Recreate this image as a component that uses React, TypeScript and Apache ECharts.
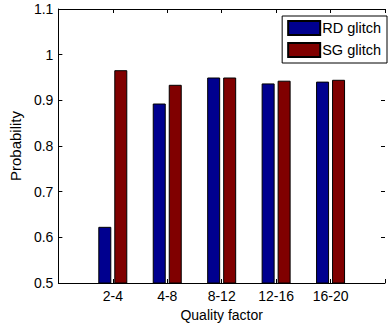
import React, { useEffect, useRef } from "react";
import * as echarts from "echarts";

const categories = ["", "2-4", "4-8", "8-12", "12-16", "16-20", ""];
const rdGlitch = [null, 0.623, 0.893, 0.95, 0.937, 0.941, null];
const sgGlitch = [null, 0.966, 0.934, 0.95, 0.943, 0.945, null];
const yTicks = { min: 0.5, max: 1.1, interval: 0.1 };

export default function App() {
  const ref = useRef<HTMLDivElement>(null);
  useEffect(() => {
    if (!ref.current) return;
    const chart = echarts.init(ref.current, undefined, { renderer: "svg" });
    const font = "Liberation Sans, Arial, sans-serif";
    const axisLine = { show: true, lineStyle: { color: "#000", width: 1 } };
    const tick = { show: true, inside: true, length: 4, lineStyle: { color: "#000" } };
    chart.setOption({
      animation: false,
      backgroundColor: "#fff",
      textStyle: { fontFamily: font },
      grid: { left: 58, top: 9, right: 0, bottom: 44 },
      legend: {
        orient: "vertical",
        right: 1,
        top: 16,
        itemWidth: 32,
        itemHeight: 14,
        itemGap: 6,
        padding: [4, 6, 5, 5],
        borderColor: "#000",
        borderWidth: 1,
        backgroundColor: "#fff",
        icon: "rect",
        textStyle: {
          fontSize: 14.5,
          lineHeight: 14,
          color: "#000",
          fontFamily: font,
          padding: [0, 0, 0, -3],
        },
        data: ["RD glitch", "SG glitch"],
      },
      xAxis: [
        {
          type: "category",
          data: categories,
          boundaryGap: false,
          axisLine,
          axisTick: tick,
          axisLabel: { fontSize: 14, color: "#000", margin: 6, fontFamily: font },
          splitLine: { show: false },
          name: "Quality factor",
          nameLocation: "middle",
          nameGap: 22,
          nameTextStyle: { fontSize: 14, color: "#000", fontFamily: font },
        },
        {
          type: "category",
          data: categories,
          boundaryGap: false,
          position: "top",
          axisLine,
          axisTick: tick,
          axisLabel: { show: false },
          splitLine: { show: false },
        },
      ],
      yAxis: [
        {
          type: "value",
          min: yTicks.min,
          max: yTicks.max,
          interval: yTicks.interval,
          axisLine,
          axisTick: tick,
          axisLabel: { fontSize: 14, color: "#000", margin: 5, fontFamily: font },
          splitLine: { show: false },
          name: "Probability",
          nameLocation: "middle",
          nameGap: 31,
          nameTextStyle: { fontSize: 15, color: "#000", fontFamily: font },
        },
        {
          type: "value",
          min: yTicks.min,
          max: yTicks.max,
          interval: yTicks.interval,
          position: "right",
          axisLine: { show: false },
          axisTick: tick,
          axisLabel: { show: false },
          splitLine: { show: false },
        },
      ],
      series: [
        {
          name: "RD glitch",
          type: "bar",
          data: rdGlitch,
          barWidth: 13,
          barGap: "23%",
          itemStyle: { color: "#00008F", borderColor: "#000", borderWidth: 1 },
        },
        {
          name: "SG glitch",
          type: "bar",
          data: sgGlitch,
          barWidth: 13,
          itemStyle: { color: "#800000", borderColor: "#000", borderWidth: 1 },
        },
      ],
    });
    return () => chart.dispose();
  }, []);
  return (
    <div
      ref={ref}
      style={{ position: "fixed", left: 0, top: 0, width: 388, height: 327 }}
    />
  );
}
